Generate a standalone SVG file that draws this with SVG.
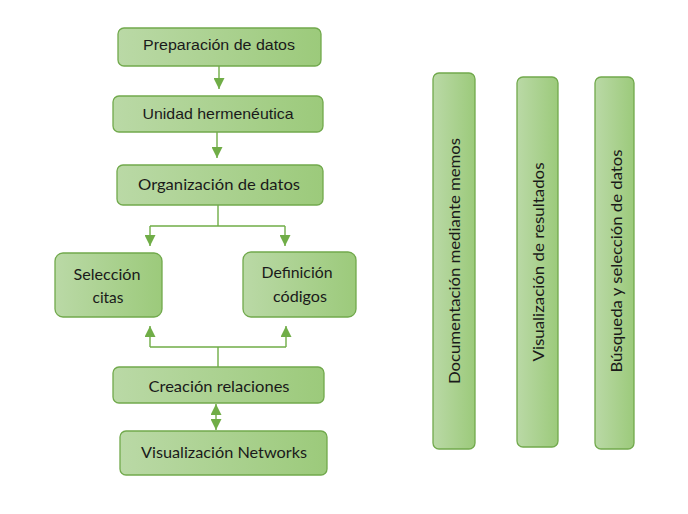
<svg xmlns="http://www.w3.org/2000/svg" width="688" height="514" viewBox="0 0 688 514">
<style>
.box{fill:url(#g);stroke:#71a94c;stroke-width:1.3}
.c{fill:none;stroke:#70ad47;stroke-width:1.4}
.a{font-family:"Liberation Sans",Arial,sans-serif;fill:#1a1a1a;text-anchor:middle}
.l{font-family:Lato,"Open Sans",sans-serif;font-size:16px;fill:#1a1a1a;text-anchor:middle}
</style>
<defs>
<linearGradient id="g" x1="0" y1="0" x2="1" y2="0">
<stop offset="0" stop-color="#bad9a6"/>
<stop offset="1" stop-color="#9cca7b"/>
</linearGradient>
<marker id="ah" markerUnits="userSpaceOnUse" markerWidth="11" markerHeight="11" viewBox="0 0 10 10" refX="10" refY="5" orient="auto-start-reverse">
<path d="M0,0 L10,5 L0,10 z" fill="#70ad47"/>
</marker>
</defs>
<rect width="688" height="514" fill="#ffffff"/>
<g id="connectors">
<path class="c" d="M219,66 V89" marker-end="url(#ah)"/>
<path class="c" d="M217,132 V158" marker-end="url(#ah)"/>
<path class="c" d="M213,148 H221"/>
<path class="c" d="M218,205 V226 M150,226 H285"/>
<path class="c" d="M150,226 V246" marker-end="url(#ah)"/>
<path class="c" d="M285,226 V246" marker-end="url(#ah)"/>
<path class="c" d="M218,367 V347 M150,347 H286"/>
<path class="c" d="M150,347 V326" marker-end="url(#ah)"/>
<path class="c" d="M286,347 V326" marker-end="url(#ah)"/>
<path class="c" d="M216,404 V430" marker-start="url(#ah)" marker-end="url(#ah)"/>
</g>
<g id="n-prep"><rect class="box" x="118" y="28" width="203" height="38" rx="6"/><text class="a" x="219" y="50" font-size="14" textLength="152" lengthAdjust="spacingAndGlyphs">Preparación de datos</text></g>
<g id="n-unidad"><rect class="box" x="113" y="96" width="210" height="36" rx="6"/><text class="a" x="218" y="119" font-size="15" textLength="151" lengthAdjust="spacingAndGlyphs">Unidad hermenéutica</text></g>
<g id="n-org"><rect class="box" x="117" y="165" width="206" height="40" rx="6"/><text class="l" x="219" y="190" textLength="162" lengthAdjust="spacingAndGlyphs">Organización de datos</text></g>
<g id="n-sel"><rect class="box" x="55" y="253" width="107" height="64" rx="8"/><text class="l" x="107" y="280" textLength="67" lengthAdjust="spacingAndGlyphs">Selección</text><text class="l" x="108" y="303" textLength="31" lengthAdjust="spacingAndGlyphs">citas</text></g>
<g id="n-def"><rect class="box" x="243" y="252" width="113" height="65" rx="8"/><text class="l" x="297" y="278" textLength="71" lengthAdjust="spacingAndGlyphs">Definición</text><text class="l" x="300" y="302" textLength="54" lengthAdjust="spacingAndGlyphs">códigos</text></g>
<g id="n-crea"><rect class="box" x="113" y="367" width="211" height="36" rx="6"/><text class="l" x="219" y="392" textLength="141" lengthAdjust="spacingAndGlyphs">Creación relaciones</text></g>
<g id="n-vis"><rect class="box" x="120" y="431" width="207" height="44" rx="6"/><text class="l" x="224" y="458" textLength="166" lengthAdjust="spacingAndGlyphs">Visualización Networks</text></g>
<g id="n-doc"><rect class="box" x="433" y="73" width="42" height="376" rx="6"/><text class="l" transform="translate(460,261) rotate(-90)" textLength="246" lengthAdjust="spacingAndGlyphs">Documentación mediante memos</text></g>
<g id="n-visres"><rect class="box" x="517" y="77" width="41" height="370" rx="6"/><text class="l" transform="translate(544,262) rotate(-90)" textLength="199" lengthAdjust="spacingAndGlyphs">Visualización de resultados</text></g>
<g id="n-bus"><rect class="box" x="595" y="77" width="39" height="372" rx="6"/><text class="l" transform="translate(622,261) rotate(-90)" textLength="223" lengthAdjust="spacingAndGlyphs">Búsqueda y selección de datos</text></g>
</svg>
